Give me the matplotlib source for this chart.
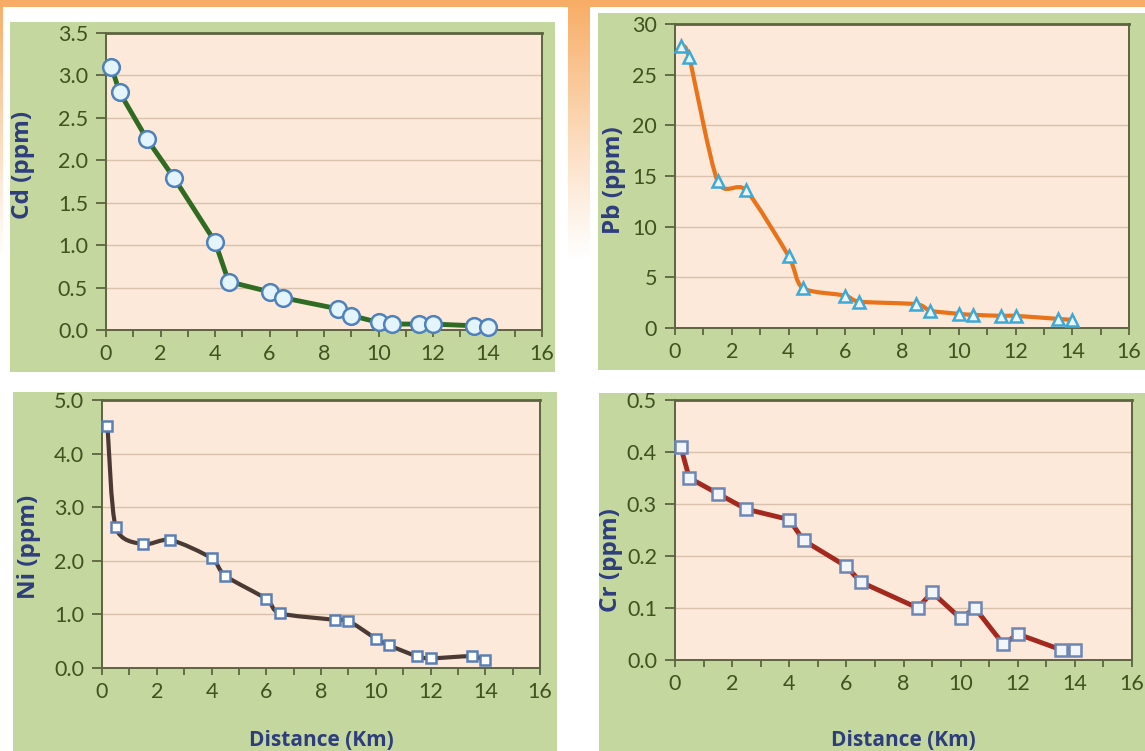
import numpy as np
import matplotlib
matplotlib.use("Agg")
import matplotlib.pyplot as plt
from matplotlib.patches import Rectangle, PathPatch
from matplotlib.path import Path
from matplotlib.ticker import MultipleLocator, FormatStrFormatter

# ---------------- data ----------------
distance = [0.2, 0.5, 1.5, 2.5, 4.0, 4.5, 6.0, 6.5, 8.5, 9.0, 10.0, 10.5, 11.5, 12.0, 13.5, 14.0]
cd = [3.10, 2.80, 2.25, 1.79, 1.04, 0.57, 0.45, 0.38, 0.25, 0.17, 0.09, 0.07, 0.07, 0.07, 0.05, 0.04]
pb = [27.8, 26.7, 14.5, 13.6, 7.1, 3.95, 3.2, 2.6, 2.35, 1.7, 1.4, 1.3, 1.2, 1.2, 0.9, 0.8]
ni = [4.52, 2.63, 2.31, 2.39, 2.05, 1.72, 1.29, 1.02, 0.90, 0.88, 0.55, 0.42, 0.22, 0.18, 0.22, 0.14]
cr = [0.41, 0.35, 0.32, 0.29, 0.27, 0.23, 0.18, 0.15, 0.10, 0.13, 0.08, 0.10, 0.03, 0.05, 0.02, 0.02]

x_label = "Distance (Km)"
y_labels = ["Cd (ppm)", "Pb (ppm)", "Ni (ppm)", "Cr (ppm)"]

W, H = 1145, 751
fig = plt.figure(figsize=(W / 100, H / 100), dpi=100)
fig.patch.set_facecolor("white")

def rect(x0, y0, x1, y1):
    return [x0 / W, 1 - y1 / H, (x1 - x0) / W, (y1 - y0) / H]

# ---------- background orange gradient ----------
bg = fig.add_axes([0, 0, 1, 1], zorder=-20)
bg.set_axis_off()
rows = np.linspace(0, 1, 300)[:, None]
alpha = np.clip(1 - rows * H / 260, 0, 1) ** 1.1
img = np.zeros((300, 2, 4))
img[..., 0] = 0.97
img[..., 1] = 0.64
img[..., 2] = 0.33
img[..., 3] = alpha * 0.9
bg.imshow(img, aspect="auto", extent=[0, 1, 0, 1], origin="upper")
bg.set_xlim(0, 1)
bg.set_ylim(0, 1)

# white frames of panels
for (x0, y0, x1, y1) in [(3, 7, 568, 380), (590, 7, 1145, 380), (0, 380, 1145, 751)]:
    r = rect(x0, y0, x1, y1)
    fig.patches.append(Rectangle((r[0], r[1]), r[2], r[3], transform=fig.transFigure,
                                 facecolor="white", edgecolor="none", zorder=-15))

GREEN = "#c4d79e"
PEACH = "#fde9d9"
TICKC = "#3f5220"
LABC = "#2e3d7c"
SPINE = "#5d6440"

green_boxes = [(10, 22, 555, 372), (598, 13, 1145, 370), (13, 392, 557, 751), (599, 393, 1145, 751)]
plot_boxes = [(106, 33, 542, 330), (675, 24, 1129, 328), (102, 400, 540, 668), (675, 400, 1132, 660)]
ylims = [(0, 3.5), (0, 30), (0, 5.0), (0, 0.5)]
ysteps = [0.5, 5, 1.0, 0.1]
yfmts = ["%.1f", "%d", "%.1f", "%.1f"]
series = [cd, pb, ni, cr]
smooth = [False, True, True, False]
line_colors = ["#2f6b22", "#e8731a", "#4a3a33", "#a3281e"]
markers = ["o", "^", "s", "s"]
msizes = [12, 9, 7, 9]
mfcs = ["#e3f4fb", "#eaf6fb", "#ffffff", "#f2f6fb"]
mecs = ["#4f81bd", "#3fa9d6", "#5b7fb5", "#6d86b4"]
lws = [3.5, 3.0, 3.0, 3.5]
ylabel_pos = [(23, 165), (614, 180), (29, 547), (611, 560)]
xlabel_pos = [None, None, (321, 741), (903, 741)]


def smooth_path(xs, ys, t=1 / 6.0):
    pts = np.column_stack([xs, ys])
    n = len(pts)
    verts = [pts[0]]
    codes = [Path.MOVETO]
    for i in range(n - 1):
        p0 = pts[i - 1] if i > 0 else pts[i]
        p1 = pts[i]
        p2 = pts[i + 1]
        p3 = pts[i + 2] if i + 2 < n else pts[i + 1]
        c1 = p1 + (p2 - p0) * t
        c2 = p2 - (p3 - p1) * t
        verts += [c1, c2, p2]
        codes += [Path.CURVE4] * 3
    return Path(verts, codes)


for k in range(4):
    g = rect(*green_boxes[k])
    fig.patches.append(Rectangle((g[0], g[1]), g[2], g[3], transform=fig.transFigure,
                                 facecolor=GREEN, edgecolor="none", zorder=-5))
    ax = fig.add_axes(rect(*plot_boxes[k]), zorder=1)
    ax.set_facecolor(PEACH)
    ax.set_xlim(0, 16)
    ax.set_ylim(*ylims[k])
    ax.xaxis.set_major_locator(MultipleLocator(2))
    ax.xaxis.set_minor_locator(MultipleLocator(1))
    ax.yaxis.set_major_locator(MultipleLocator(ysteps[k]))
    ax.yaxis.set_major_formatter(FormatStrFormatter(yfmts[k]))
    ax.grid(axis="y", which="major", color="#d8c2ae", lw=1.0)
    ax.set_axisbelow(True)
    for s in ax.spines.values():
        s.set_color(SPINE)
        s.set_linewidth(1.4)
    ax.spines["top"].set_linewidth(2.0)
    ax.tick_params(axis="x", which="both", direction="out", length=5, width=1.3,
                   color=SPINE, labelsize=15.5, labelcolor=TICKC, pad=5)
    ax.tick_params(axis="y", which="major", direction="out", length=7, width=1.3,
                   color=SPINE, labelsize=15.5, labelcolor=TICKC, pad=6)
    for lab in ax.get_xticklabels() + ax.get_yticklabels():
        lab.set_family("Lato")

    ys = series[k]
    if smooth[k]:
        patch = PathPatch(smooth_path(distance, ys, 0.13), facecolor="none",
                          edgecolor=line_colors[k], lw=lws[k], transform=ax.transData,
                          zorder=3, capstyle="round", joinstyle="round")
        ax.add_patch(patch)
        ax.plot(distance, ys, linestyle="none", marker=markers[k], ms=msizes[k],
                mfc=mfcs[k], mec=mecs[k], mew=1.8, zorder=4, clip_on=False)
    else:
        ax.plot(distance, ys, color=line_colors[k], lw=lws[k], marker=markers[k],
                ms=msizes[k], mfc=mfcs[k], mec=mecs[k], mew=1.8, zorder=4,
                clip_on=False, solid_joinstyle="round")

    lx, ly = ylabel_pos[k]
    fig.text(lx / W, 1 - ly / H, y_labels[k], rotation=90, ha="center", va="center",
             fontsize=17.5, fontweight="bold", color=LABC, family="Open Sans")
    if xlabel_pos[k] is not None:
        bx, by = xlabel_pos[k]
        fig.text(bx / W, 1 - by / H, x_label, ha="center", va="center",
                 fontsize=15, fontweight="bold", color=LABC, family="Open Sans")

fig.savefig("out.png", dpi=100)
